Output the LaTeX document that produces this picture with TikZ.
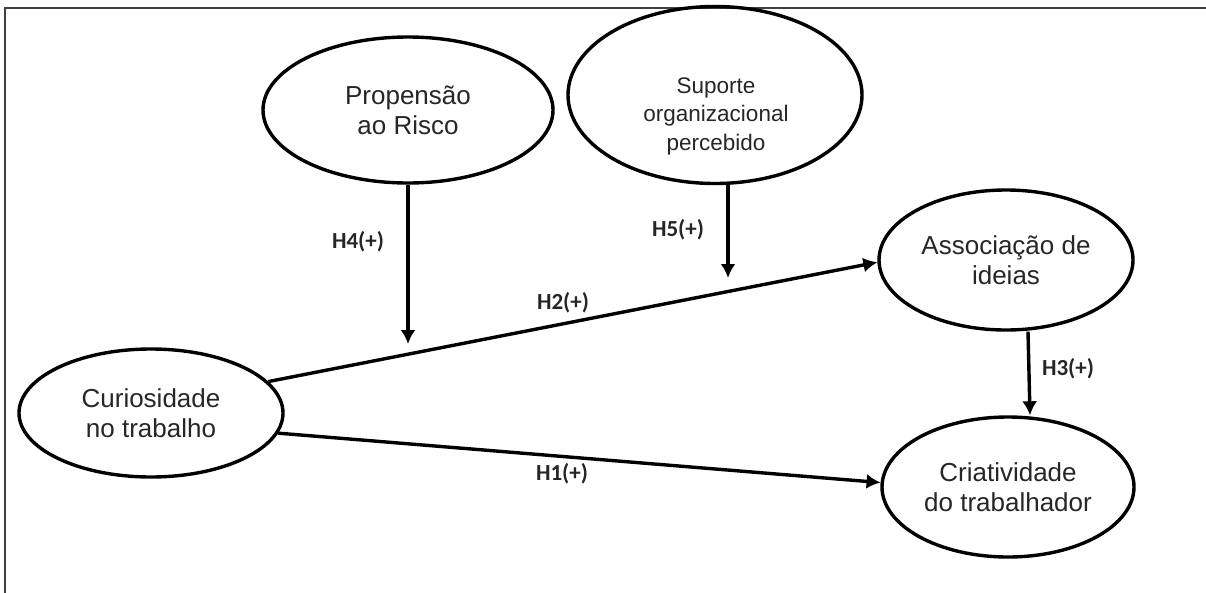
\documentclass[tikz,border=0pt]{standalone}
\usepackage{fontspec}
\setmainfont{Liberation Sans}
\newfontfamily\lblfont{Carlito}
\usetikzlibrary{shapes.geometric,arrows.meta}
\begin{document}
\begin{tikzpicture}[x=1pt,y=-1pt,
  var/.style={ellipse,draw=black,line width=3.4pt,inner sep=0pt,align=center,
    text=black!85,font=\fontsize{26}{30}\selectfont},
  conn/.style={line width=3.4pt,-{Latex[length=14pt,width=15pt]}},
  hyp/.style={font=\lblfont\bfseries\fontsize{23}{26}\selectfont,text=black!85}]
\useasboundingbox (0,0) rectangle (1206,592);
\draw[line width=2.4pt,black!75] (5,600) -- (5,8) -- (1215,8);
\node[var,minimum width=264pt,minimum height=128pt] (cur) at (151,413) {Curiosidade\\no trabalho};
\node[var,minimum width=290pt,minimum height=146pt] (prop) at (408,110) {Propensão\\ao Risco};
\node[var,minimum width=294pt,minimum height=177pt] (sup) at (715,95) {};
\node[align=center,inner sep=0pt,text=black!85,font=\fontsize{22.5}{28.5}\selectfont] (suptxt) at (716,116) {Suporte\\organizacional\\percebido};
\node[var,minimum width=254pt,minimum height=140pt] (asc) at (1006,260) {Associação de\\ideias};
\node[var,minimum width=252pt,minimum height=140pt] (crt) at (1008,487) {Criatividade\\do trabalhador};
\coordinate (h4end) at (408,344);
\coordinate (h5end) at (728,278);
\draw[conn] (cur.15) -- (asc.181);
\draw[conn] (cur.-9) -- (crt.178);
\draw[conn] ([xshift=22pt]asc.south) -- ([xshift=22pt]crt.north);
\draw[conn] (prop.south) -- (h4end);
\draw[conn] ([xshift=13pt]sup.south) -- (h5end);
\node[hyp] (l4) at (358,242) {H4(+)};
\node[hyp] (l5) at (678,230) {H5(+)};
\node[hyp] (l2) at (563,303) {H2(+)};
\node[hyp] (l3) at (1068,369) {H3(+)};
\node[hyp] (l1) at (562,474) {H1(+)};
\end{tikzpicture}
\end{document}
